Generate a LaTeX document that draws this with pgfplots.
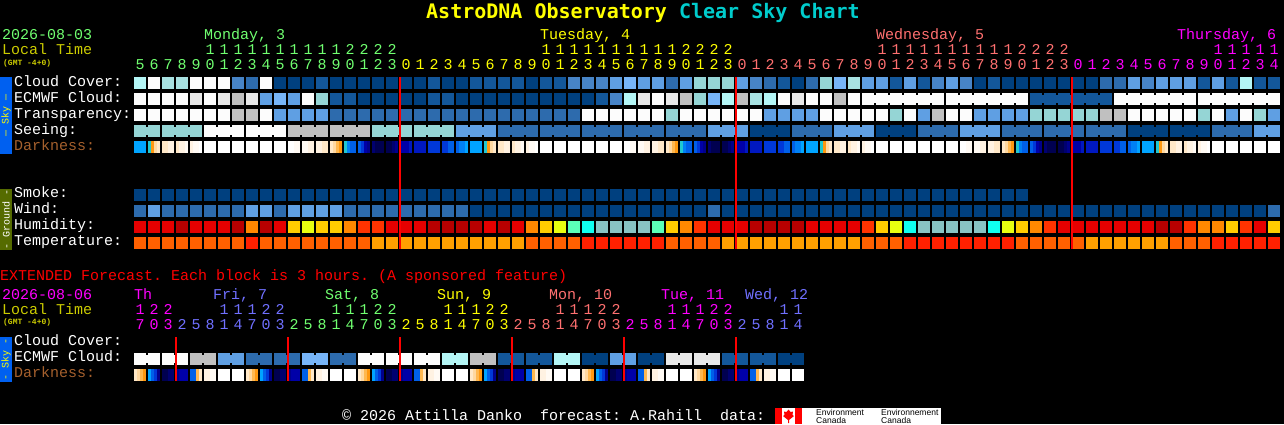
\documentclass[border=0pt]{standalone}
\usepackage{fontspec}
\usepackage{pgfplots}
\usepackage{pgfplotstable}
\pgfplotsset{compat=1.18}
\setmainfont{Liberation Mono}
\newfontfamily\titlefont{DejaVu Sans Mono}
\newfontfamily\logofont{Liberation Sans}
\frenchspacing

\definecolor{yellow}{HTML}{FFFF00}
\definecolor{magenta}{HTML}{FF00FF}
\definecolor{lgreen}{HTML}{70FF70}
\definecolor{salmon}{HTML}{FF7070}
\definecolor{peri}{HTML}{7070FF}
\definecolor{olivey}{HTML}{CCCC00}
\definecolor{dbrown}{HTML}{A5602D}
\definecolor{skytag}{HTML}{0060F0}
\definecolor{groundtag}{HTML}{556B00}

\newcommand\fn{\fontsize{15}{15}\selectfont}
\newcommand\txt[4]{\node[anchor=base west,inner sep=0pt,text=#3,font=\fn] at (axis cs:#1,{#2-1}) {#4};}
\newcommand\gmt[2]{\node[anchor=base west,inner sep=0pt,text=olivey,font=\fontsize{8}{8}\selectfont\bfseries] at (axis cs:#1,#2) {(GMT -4+0)};}
\newcommand\tag[5]{\fill[#5] (axis cs:0,#1) rectangle (axis cs:12,#2);
  \node[rotate=90,inner sep=0pt,text=#3,font=\fontsize{10}{10}\selectfont] at (axis cs:6,{(#1+#2)/2}) {#4};}
% digits one per block, 14 px apart
\newcommand\digits[4]{\foreach \d [count=\n from 0] in {#4} {%
  \pgfmathsetmacro\xx{#1+14*\n}%
  \edef\tmp{\noexpand\node[anchor=base,inner sep=0pt,text=#3,font=\noexpand\fn] at (axis cs:\xx,{#2-1}) {\d};}\tmp}}

\pgfdeclareplotmark{cell}{\pgfpathrectangle{\pgfpoint{-6pt}{-6pt}}{\pgfpoint{12pt}{12pt}}\pgfusepathqfill}
\pgfdeclareplotmark{strip}{\pgfpathrectangle{\pgfpoint{-1.55pt}{-6pt}}{\pgfpoint{3.1pt}{12pt}}\pgfusepathqfill}
\pgfdeclareplotmark{link}{\pgfpathrectangle{\pgfpoint{-1.1pt}{-4pt}}{\pgfpoint{2.2pt}{8pt}}\pgfusepathqfill}
% midnight lines as marks so they land on top of the blocks
\pgfdeclareplotmark{midlong}{\pgfpathrectangle{\pgfpoint{-1pt}{-86pt}}{\pgfpoint{2pt}{172pt}}\pgfusepathqfill}
\pgfdeclareplotmark{midshort}{\pgfpathrectangle{\pgfpoint{-1pt}{-22pt}}{\pgfpoint{2pt}{44pt}}\pgfusepathqfill}

\pgfplotsset{blocks/.style={only marks,mark=#1,scatter,point meta=explicit,
  scatter/use mapped color={fill=mapped color,draw=none}}}

% levels index the colormap in the axis options
\pgfplotstableread{
cloud ecmwf elink transp seeing slink smoke wind hum temp
9 12 0 12 7 7 1 3 14 22
12 12 0 12 7 0 1 5 14 22
8 12 0 12 7 7 1 3 14 22
8 12 0 12 7 7 1 3 13 22
12 11 0 12 7 0 1 3 14 22
12 12 0 12 12 12 1 3 14 22
12 11 0 12 12 12 1 3 14 22
4 10 0 10 12 0 1 3 13 22
3 11 0 10 12 12 1 5 16 24
12 5 0 12 12 12 1 5 13 22
1 6 0 5 12 0 1 3 14 22
1 5 0 5 10 10 1 5 17 22
1 12 0 5 10 10 1 5 18 22
2 7 0 5 10 0 1 5 17 22
1 2 0 3 10 10 1 5 17 22
1 2 0 3 10 10 1 3 16 22
1 1 0 3 10 0 1 3 15 22
1 1 0 3 7 7 1 3 15 23
1 1 0 3 7 7 1 3 14 23
1 1 0 3 7 0 1 3 14 23
1 1 0 3 7 7 1 3 14 23
2 2 0 3 7 7 1 3 13 23
1 2 0 3 7 0 1 3 13 23
1 1 0 3 5 5 1 3 13 23
2 1 0 3 5 5 1 1 13 23
2 1 0 3 5 0 1 1 14 23
2 1 0 3 3 3 1 1 13 23
2 1 0 3 3 3 1 1 14 23
1 1 0 3 3 0 1 1 16 22
2 1 0 3 3 3 1 1 17 22
2 1 0 3 3 3 1 1 18 22
4 1 0 3 3 0 1 1 19 22
4 1 0 12 3 3 1 1 20 24
4 2 0 12 3 3 1 1 21 24
5 4 0 12 3 0 1 1 21 24
6 9 0 12 3 3 1 1 21 24
5 11 0 12 3 3 1 1 21 24
5 12 0 12 3 0 1 1 19 24
3 11 0 7 3 3 1 1 17 22
5 10 0 12 3 3 1 1 16 22
7 7 0 12 3 0 1 1 15 22
7 6 0 12 5 5 1 3 14 22
7 9 0 12 5 5 1 1 14 23
5 10 0 12 5 0 1 1 14 23
4 8 0 12 1 1 1 1 13 23
3 9 0 5 1 1 1 1 13 23
2 12 0 5 1 0 1 1 13 23
1 11 0 5 3 3 1 1 13 23
3 12 0 5 3 3 1 1 14 23
7 12 0 12 3 0 1 1 14 23
6 10 0 12 5 5 1 1 14 23
8 12 0 12 5 5 1 1 14 23
5 12 12 12 5 0 1 1 15 22
5 12 12 12 1 1 1 1 17 22
2 12 12 7 1 1 1 1 18 22
5 12 12 12 1 0 1 1 20 24
2 12 12 5 3 3 1 1 21 24
4 12 0 10 3 3 1 1 21 24
5 12 12 12 3 0 1 1 21 24
4 12 12 12 5 5 1 1 21 24
1 12 12 5 5 5 1 1 21 24
2 12 12 5 5 0 1 1 20 24
1 12 12 5 3 3 1 1 18 24
1 12 0 5 3 3 1 1 17 22
1 2 2 7 3 0 0 1 16 22
1 2 2 7 3 3 0 1 15 22
1 2 2 7 3 3 0 1 14 22
1 2 2 7 3 0 0 1 14 22
1 2 2 7 3 3 0 1 14 23
3 2 0 10 3 3 0 1 14 23
3 12 12 10 3 0 0 1 14 23
5 12 12 12 1 1 0 1 14 23
4 12 12 12 1 1 0 1 14 23
5 12 12 12 1 0 0 1 13 23
5 12 12 12 1 1 0 1 13 22
5 12 0 12 1 1 0 1 15 22
2 12 12 7 1 0 0 1 16 22
5 12 12 12 3 3 0 1 16 24
2 12 12 5 3 3 0 1 17 24
9 12 12 12 3 0 0 1 15 24
2 12 12 7 5 5 0 1 14 24
2 12 0 5 5 0 0 3 17 24
}\hourly

% darkness, four strips in each block
\pgfplotstableread{
a b c d
33 33 33 33
34 35 37 38
38 38 39 39
38 39 39 40
39 40 40 41
41 41 41 41
41 41 41 41
41 41 41 41
41 41 41 41
41 41 41 41
41 41 41 41
41 41 40 40
40 40 39 39
39 39 38 38
38 37 36 35
34 32 31 31
31 30 28 27
26 25 25 25
25 25 26 27
28 28 28 29
29 29 29 29
30 30 30 30
30 30 31 31
31 32 32 33
33 33 33 33
34 35 37 38
38 38 39 39
38 39 39 40
39 40 40 41
41 41 41 41
41 41 41 41
41 41 41 41
41 41 41 41
41 41 41 41
41 41 41 41
41 41 40 40
40 40 39 39
39 39 38 38
38 37 36 35
34 32 31 31
31 30 28 27
26 25 25 25
25 25 26 27
28 28 28 29
29 29 29 29
30 30 30 30
30 30 31 31
31 32 32 33
33 33 33 33
34 35 37 38
38 38 39 39
38 39 39 40
39 40 40 41
41 41 41 41
41 41 41 41
41 41 41 41
41 41 41 41
41 41 41 41
41 41 41 41
41 41 40 40
40 40 39 39
39 39 38 38
38 37 36 35
34 32 31 31
31 30 28 27
26 25 25 25
25 25 26 27
28 28 28 29
29 29 29 29
30 30 30 30
30 30 31 31
31 32 32 33
33 33 33 33
34 35 37 38
38 38 39 39
38 39 39 40
39 40 40 41
41 41 41 41
41 41 41 41
41 41 41 41
41 41 41 41
41 41 41 41
}\darkness

\pgfplotstableread{
ecmwf elink a b c d
12 12 38 37 36 35
12 0 33 31 30 27
12 12 25 25 26 26
12 0 27 28 28 28
10 10 31 31 36 38
10 0 39 39 40 40
5 5 41 41 41 41
5 0 41 41 41 41
3 3 38 37 36 35
3 0 33 31 30 27
3 3 25 25 26 26
3 0 27 28 28 28
6 6 31 31 36 38
6 0 39 39 40 40
3 3 41 41 41 41
3 0 41 41 41 41
12 12 38 37 36 35
12 0 33 31 30 27
12 12 25 25 26 26
12 0 27 28 28 28
12 12 31 31 36 38
12 0 39 39 40 40
9 9 41 41 41 41
9 0 41 41 41 41
10 10 38 37 36 35
10 0 33 31 30 27
2 2 25 25 26 26
2 0 27 28 28 28
2 2 31 31 36 38
2 0 39 39 40 40
9 9 41 41 41 41
9 0 41 41 41 41
1 1 38 37 36 35
1 0 33 31 30 27
5 5 25 25 26 26
5 0 27 28 28 28
1 1 31 31 36 38
1 0 39 39 40 40
11 11 41 41 41 41
11 0 41 41 41 41
11 11 38 37 36 35
11 0 33 31 30 27
2 2 25 25 26 26
2 0 27 28 28 28
2 2 31 31 36 38
2 0 39 39 40 40
1 1 41 41 41 41
1 0 41 41 41 41
}\extended

\begin{document}
\begin{tikzpicture}
\path[use as bounding box] (0,0) rectangle (1284pt,424pt);
\begin{axis}[
    at={(0,0)},anchor=south west,
    scale only axis,
    width=1284pt,height=424pt,
    xmin=0,xmax=1284,ymin=0,ymax=424,
    y dir=reverse,
    clip=false,
    ticks=none,
    axis line style={draw=none},
    axis background/.style={fill=black},
    point meta min=0,point meta max=41,
    colormap={csc}{
      rgb255(0pt)=(0,0,0); rgb255(1pt)=(0,64,127); rgb255(2pt)=(19,87,154);
      rgb255(3pt)=(45,107,173); rgb255(4pt)=(71,132,199); rgb255(5pt)=(95,159,227);
      rgb255(6pt)=(119,181,248); rgb255(7pt)=(149,213,213); rgb255(8pt)=(168,226,226);
      rgb255(9pt)=(180,246,246); rgb255(10pt)=(192,192,192); rgb255(11pt)=(232,232,232);
      rgb255(12pt)=(252,252,252); rgb255(13pt)=(184,0,0); rgb255(14pt)=(230,0,0);
      rgb255(15pt)=(255,51,0); rgb255(16pt)=(255,136,0); rgb255(17pt)=(255,204,0);
      rgb255(18pt)=(232,255,16); rgb255(19pt)=(91,255,184); rgb255(20pt)=(16,255,240);
      rgb255(21pt)=(136,196,196); rgb255(22pt)=(255,96,0); rgb255(23pt)=(255,160,0);
      rgb255(24pt)=(255,32,0); rgb255(25pt)=(0,0,80); rgb255(26pt)=(0,0,112);
      rgb255(27pt)=(0,0,140); rgb255(28pt)=(0,0,168); rgb255(29pt)=(0,24,192);
      rgb255(30pt)=(0,56,216); rgb255(31pt)=(0,96,232); rgb255(32pt)=(0,128,244);
      rgb255(33pt)=(0,164,255); rgb255(34pt)=(32,200,208); rgb255(35pt)=(255,152,16);
      rgb255(36pt)=(255,184,80); rgb255(37pt)=(255,216,160); rgb255(38pt)=(255,232,200);
      rgb255(39pt)=(255,242,226); rgb255(40pt)=(255,250,244); rgb255(41pt)=(255,255,255);
    },
]
% sky
\addplot[blocks=cell] table[x expr=140+14*\coordindex,y expr=83,meta=cloud] {\hourly};
\addplot[blocks=cell] table[x expr=140+14*\coordindex,y expr=99,meta=ecmwf] {\hourly};
\addplot[blocks=link] table[x expr=147+14*\coordindex,y expr=99,meta=elink] {\hourly};
\addplot[blocks=cell] table[x expr=140+14*\coordindex,y expr=115,meta=transp] {\hourly};
\addplot[blocks=cell] table[x expr=140+14*\coordindex,y expr=131,meta=seeing] {\hourly};
\addplot[blocks=link] table[x expr=147+14*\coordindex,y expr=131,meta=slink] {\hourly};
\addplot[blocks=strip] table[x expr=135.5+14*\coordindex,y expr=147,meta=a] {\darkness};
\addplot[blocks=strip] table[x expr=138.5+14*\coordindex,y expr=147,meta=b] {\darkness};
\addplot[blocks=strip] table[x expr=141.5+14*\coordindex,y expr=147,meta=c] {\darkness};
\addplot[blocks=strip] table[x expr=144.5+14*\coordindex,y expr=147,meta=d] {\darkness};
% ground
\addplot[blocks=cell] table[x expr=140+14*\coordindex,y expr=195,meta=smoke] {\hourly};
\addplot[blocks=cell] table[x expr=140+14*\coordindex,y expr=211,meta=wind] {\hourly};
\addplot[blocks=cell] table[x expr=140+14*\coordindex,y expr=227,meta=hum] {\hourly};
\addplot[blocks=cell] table[x expr=140+14*\coordindex,y expr=243,meta=temp] {\hourly};
% extended
\addplot[blocks=cell] table[x expr=140+14*\coordindex,y expr=359,meta=ecmwf] {\extended};
\addplot[blocks=link] table[x expr=147+14*\coordindex,y expr=359,meta=elink] {\extended};
\addplot[blocks=strip] table[x expr=135.5+14*\coordindex,y expr=375,meta=a] {\extended};
\addplot[blocks=strip] table[x expr=138.5+14*\coordindex,y expr=375,meta=b] {\extended};
\addplot[blocks=strip] table[x expr=141.5+14*\coordindex,y expr=375,meta=c] {\extended};
\addplot[blocks=strip] table[x expr=144.5+14*\coordindex,y expr=375,meta=d] {\extended};
% midnight lines
\addplot[only marks,mark=midlong,red] coordinates {(400,163) (736,163) (1072,163)};
\addplot[only marks,mark=midshort,red] coordinates {(176,359) (288,359) (400,359) (512,359) (624,359) (736,359)};

% title
\node[anchor=base west,inner sep=0pt,font=\titlefont\bfseries\fontsize{20}{20}\selectfont] at (axis cs:426,18)
  {\textcolor{yellow}{AstroDNA Observatory} \textcolor[HTML]{00CCCC}{Clear Sky Chart}};

% main header
\txt{2}{40}{lgreen}{2026-08-03}
\txt{2}{55}{olivey}{Local Time}
\gmt{3}{65}
\txt{204}{40}{lgreen}{Monday, 3}
\txt{540}{40}{yellow}{Tuesday, 4}
\txt{876}{40}{salmon}{Wednesday, 5}
\txt{1177}{40}{magenta}{Thursday, 6}
\digits{210}{55}{lgreen}{1,1,1,1,1,1,1,1,1,1,2,2,2,2}
\digits{546}{55}{yellow}{1,1,1,1,1,1,1,1,1,1,2,2,2,2}
\digits{882}{55}{salmon}{1,1,1,1,1,1,1,1,1,1,2,2,2,2}
\digits{1218}{55}{magenta}{1,1,1,1,1}
\digits{140}{70}{lgreen}{5,6,7,8,9,0,1,2,3,4,5,6,7,8,9,0,1,2,3}
\digits{406}{70}{yellow}{0,1,2,3,4,5,6,7,8,9,0,1,2,3,4,5,6,7,8,9,0,1,2,3}
\digits{742}{70}{salmon}{0,1,2,3,4,5,6,7,8,9,0,1,2,3,4,5,6,7,8,9,0,1,2,3}
\digits{1078}{70}{magenta}{0,1,2,3,4,5,6,7,8,9,0,1,2,3,4}

% row labels
\txt{14}{87}{white}{Cloud Cover:}
\txt{14}{103}{white}{ECMWF Cloud:}
\txt{14}{119}{white}{Transparency:}
\txt{14}{135}{white}{Seeing:}
\txt{14}{151}{dbrown}{Darkness:}
\txt{14}{198}{white}{Smoke:}
\txt{14}{214}{white}{Wind:}
\txt{14}{230}{white}{Humidity:}
\txt{14}{246}{white}{Temperature:}
\tag{77}{154}{yellow}{--- Sky ---}{skytag}
\tag{189}{250}{white}{- Ground -}{groundtag}

% extended header
\txt{0}{281}{red}{EXTENDED Forecast. Each block is 3 hours. (A sponsored feature)}
\txt{2}{300}{magenta}{2026-08-06}
\txt{2}{315}{olivey}{Local Time}
\gmt{3}{324}
\txt{134}{300}{magenta}{Th}
\txt{213}{300}{peri}{Fri, 7}
\txt{325}{300}{lgreen}{Sat, 8}
\txt{437}{300}{yellow}{Sun, 9}
\txt{549}{300}{salmon}{Mon, 10}
\txt{661}{300}{magenta}{Tue, 11}
\txt{745}{300}{peri}{Wed, 12}
\digits{140}{315}{magenta}{1,2,2}
\digits{224}{315}{peri}{1,1,1,2,2}
\digits{336}{315}{lgreen}{1,1,1,2,2}
\digits{448}{315}{yellow}{1,1,1,2,2}
\digits{560}{315}{salmon}{1,1,1,2,2}
\digits{672}{315}{magenta}{1,1,1,2,2}
\digits{784}{315}{peri}{1,1}
\digits{140}{330}{magenta}{7,0,3}
\digits{182}{330}{peri}{2,5,8,1,4,7,0,3}
\digits{294}{330}{lgreen}{2,5,8,1,4,7,0,3}
\digits{406}{330}{yellow}{2,5,8,1,4,7,0,3}
\digits{518}{330}{salmon}{2,5,8,1,4,7,0,3}
\digits{630}{330}{magenta}{2,5,8,1,4,7,0,3}
\digits{742}{330}{peri}{2,5,8,1,4}
\txt{14}{346}{white}{Cloud Cover:}
\txt{14}{362}{white}{ECMWF Cloud:}
\txt{14}{378}{dbrown}{Darkness:}
\tag{337}{382}{yellow}{- Sky -}{skytag}

% footer and logo
\txt{342}{421}{white}{© 2026 Attilla Danko~~forecast: A.Rahill~~data:}
\fill[white] (axis cs:775,408) rectangle (axis cs:941,424);
\fill[red] (axis cs:775,408) rectangle (axis cs:782,424);
\fill[red] (axis cs:795,408) rectangle (axis cs:802,424);
\fill[red] (axis cs:788.5,409.5) -- (axis cs:790.5,412) -- (axis cs:793,411.5) -- (axis cs:792.5,415) -- (axis cs:794,416) -- (axis cs:789,420) -- (axis cs:789,423) -- (axis cs:788,423) -- (axis cs:788,420) -- (axis cs:783,416) -- (axis cs:784.5,415) -- (axis cs:784,411.5) -- (axis cs:786.5,412) -- cycle;
\node[anchor=base west,inner sep=0pt,text=black,font=\logofont\fontsize{8.5}{8.5}\selectfont] at (axis cs:816,415.5) {Environment};
\node[anchor=base west,inner sep=0pt,text=black,font=\logofont\fontsize{8.5}{8.5}\selectfont] at (axis cs:816,423) {Canada};
\node[anchor=base west,inner sep=0pt,text=black,font=\logofont\fontsize{8.5}{8.5}\selectfont] at (axis cs:881,415.5) {Environnement};
\node[anchor=base west,inner sep=0pt,text=black,font=\logofont\fontsize{8.5}{8.5}\selectfont] at (axis cs:881,423) {Canada};
\end{axis}
\end{tikzpicture}
\end{document}
